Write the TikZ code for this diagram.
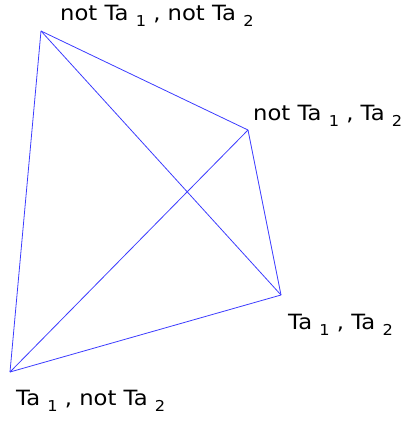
\documentclass[tikz,border=0pt]{standalone}
\usepackage{fontspec}
\setmainfont{DejaVu Sans}[FakeStretch=1.08]
\newcommand{\lowsub}[1]{\raisebox{-6pt}{\fontsize{15pt}{15pt}\selectfont #1}}
\begin{document}
\begin{tikzpicture}[x=1pt,y=-1pt,
  edge/.style={draw={rgb,255:red,60;green,60;blue,255},line width=0.8pt},
  lab/.style={anchor=base west,inner sep=0pt,font=\fontsize{21pt}{23pt}\selectfont}]
\useasboundingbox (0,0) rectangle (403,421);
\coordinate (tl) at (41,31);
\coordinate (ru) at (248,130);
\coordinate (rl) at (281,295);
\coordinate (bl) at (10,372);
\draw[edge] (tl) -- (ru);
\draw[edge] (tl) -- (rl);
\draw[edge] (tl) -- (bl);
\draw[edge] (ru) -- (rl);
\draw[edge] (ru) -- (bl);
\draw[edge] (rl) -- (bl);
\node[lab] (l1) at (60,20) {not Ta \lowsub{1} , not Ta \lowsub{2}};
\node[lab] (l2) at (253,120.5) {not Ta \lowsub{1} , Ta \lowsub{2}};
\node[lab] (l3) at (288,329) {Ta \lowsub{1} , Ta \lowsub{2}};
\node[lab] (l4) at (16,405) {Ta \lowsub{1} , not Ta \lowsub{2}};
\end{tikzpicture}
\end{document}
